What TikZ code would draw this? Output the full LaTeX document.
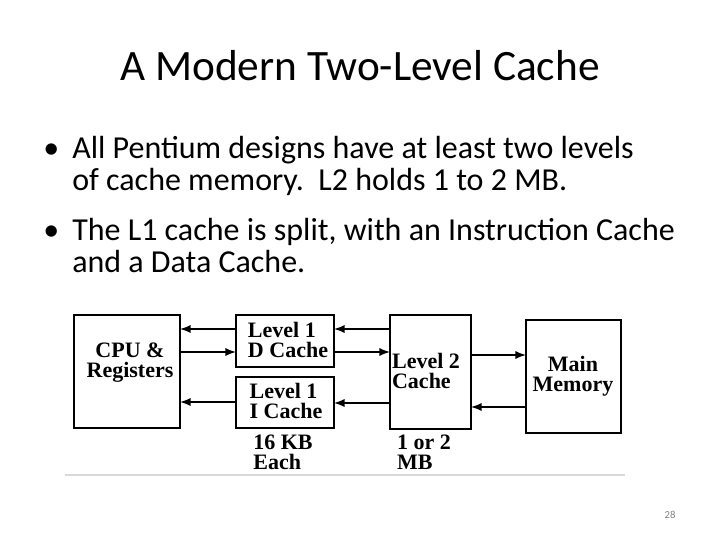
\documentclass[tikz,border=0pt]{standalone}
\usepackage{fontspec}
\setmainfont{Carlito}
\newfontfamily\dg{Liberation Serif}
\begin{document}
\begin{tikzpicture}[x=0.75pt,y=-0.75pt,
 bx/.style={draw,line width=1.7pt},
 ar/.style={-latex,line width=1.7pt},
 lb/.style={font=\dg\bfseries\fontsize{16.5}{15}\selectfont,align=left,inner sep=0pt}]
\useasboundingbox (0,0) rectangle (720,540);
\node[anchor=base,font=\fontsize{32.5}{36}\selectfont] (t) at (360,80) {A Modern Two-Level Cache};
\begin{scope}[every node/.style={anchor=base west,inner sep=0pt,font=\fontsize{24}{28}\selectfont}]
\node (b1) at (43,158) {•};
\node (l1) at (72,158) {All Pentium designs have at least two levels};
\node (l2) at (72,190) {of cache memory.\ \ L2 holds 1 to 2 MB.};
\node (b2) at (43,240) {•};
\node (l3) at (72,240) {The L1 cache is split, with an Instruction Cache};
\node (l4) at (72,272) {and a Data Cache.};
\end{scope}
\draw[bx] (74,315) rectangle (180,428); \node[lb,align=center] (cpu) at (130,363) {CPU \&\\Registers};
\draw[bx] (236,315) rectangle (334,367); \node[lb] (d) at (288,340) {Level 1\\D Cache};
\draw[bx] (236,377) rectangle (334,428); \node[lb] (i) at (286,401) {Level 1\\I Cache};
\draw[bx] (390,315) rectangle (471,429); \node[lb] (l2c) at (426,371) {Level 2\\Cache};
\draw[bx] (526,320) rectangle (621,433); \node[lb,align=center] (mm) at (573,376) {Main\\Memory};
\draw[ar] (236,329) -- (180,329);
\draw[ar] (180,352) -- (236,352);
\draw[ar] (236,402) -- (180,402);
\draw[ar] (390,329) -- (334,329);
\draw[ar] (334,352) -- (390,352);
\draw[ar] (390,403) -- (334,403);
\draw[ar] (471,355) -- (526,355);
\draw[ar] (526,407) -- (471,407);
\node[lb] (s1) at (283,452) {16 KB\\Each};
\node[lb] (s2) at (424,452) {1 or 2\\MB};
\draw[gray!30,line width=0.8pt] (65,475) -- (625,475);
\node[font=\fontsize{8}{9}\selectfont,text=gray] (pg) at (670,515) {28};
\end{tikzpicture}
\end{document}
